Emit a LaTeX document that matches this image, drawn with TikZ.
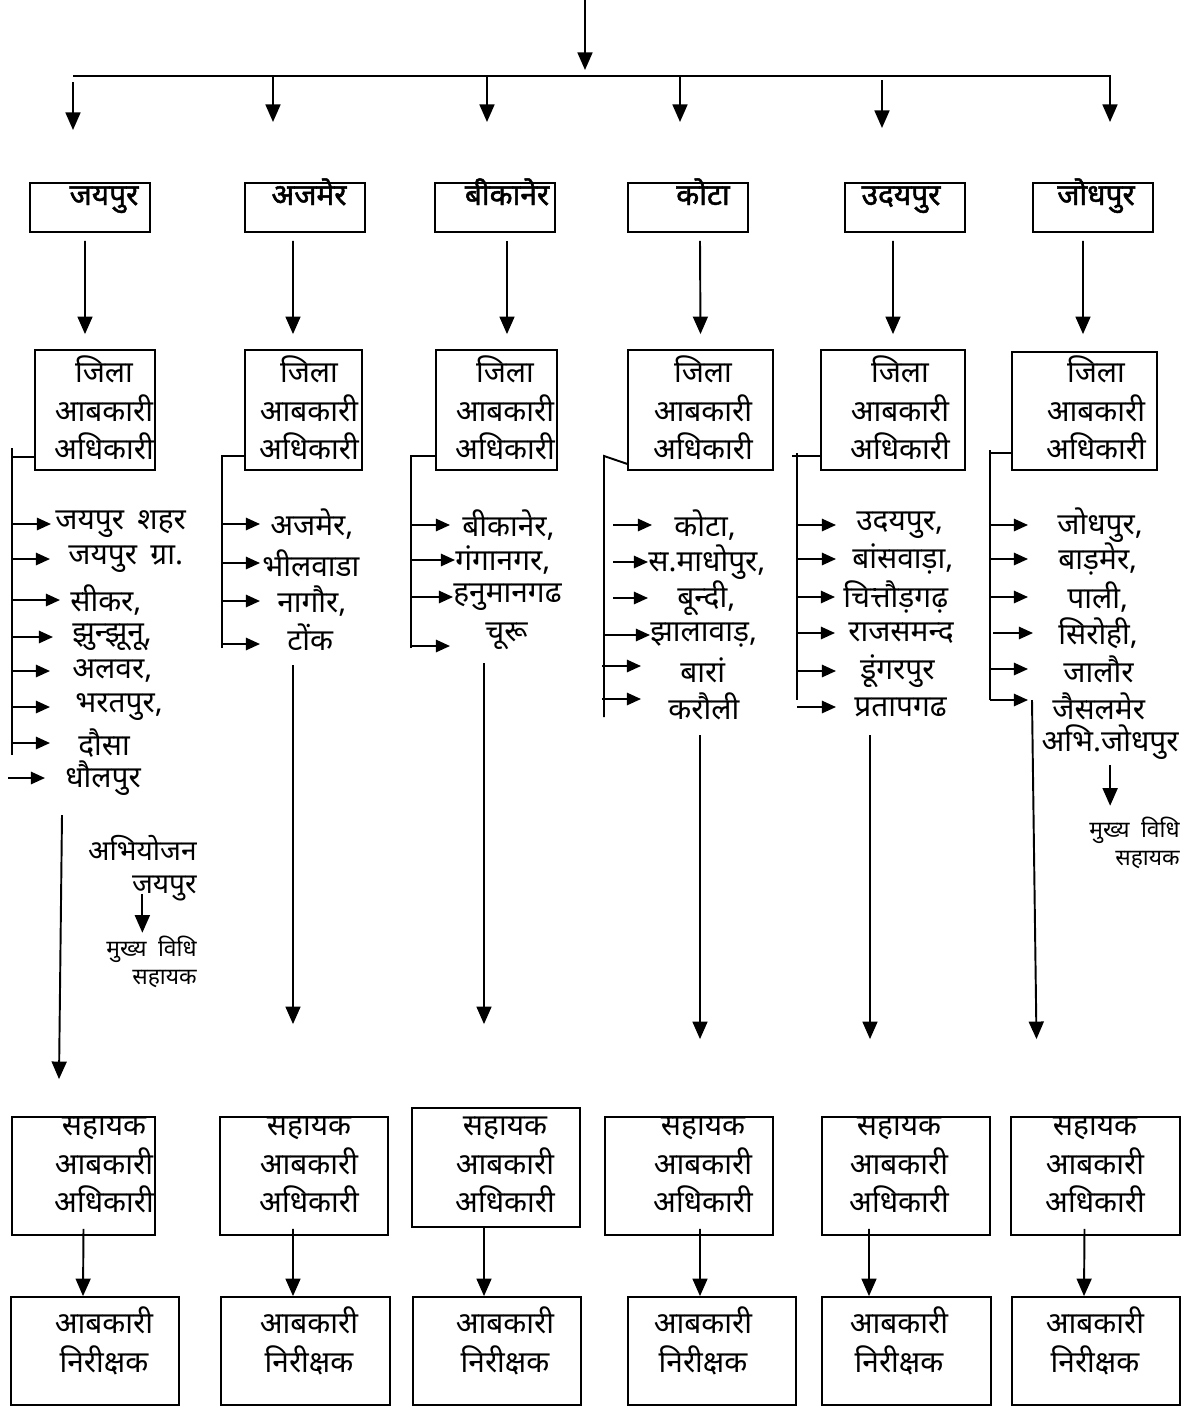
\documentclass[tikz,border=0pt]{standalone}
\usepackage{fontspec}
\newfontfamily\hindi[Script=Devanagari]{Noto Sans}
\newfontfamily\hindibold[Script=Devanagari, FakeBold=1.6]{Noto Sans}
\usetikzlibrary{arrows.meta}

\begin{document}
\begin{tikzpicture}[x=0.2mm, y=-0.2mm,
	boxed/.style={draw=black, line width=1pt, inner sep=0pt},
	cityname/.style={font=\hindibold\fontsize{17}{20}\selectfont, anchor=base, inner sep=0pt},
	officetext/.style={font=\hindi\fontsize{17}{22}\selectfont, align=center, inner sep=0pt},
	distr/.style={font=\hindi\fontsize{17}{20}\selectfont, anchor=west, inner sep=0pt},
	smallnote/.style={font=\hindi\fontsize{13}{16}\selectfont, align=right, anchor=east, inner sep=0pt},
	plainline/.style={line width=1.1pt},
	bigarrow/.style={plainline, -{Triangle[width=8.5pt,length=10pt]}},
	smallarrow/.style={plainline, -{Triangle[width=7pt,length=8pt]}}]

	\useasboundingbox (0,0) rectangle (1186,1410);

	% top arrow and bar
	\coordinate (topin) at (585, 0);
	\coordinate (topout) at (585, 70);
	\coordinate (barleft) at (73, 76);
	\coordinate (barright) at (1111, 76);
	\draw[bigarrow] (topin) -- (topout);
	\draw[plainline] (barleft) -- (barright);

	\coordinate (rise1) at (73, 82);   \coordinate (drop1) at (73, 130);
	\coordinate (rise2) at (273, 76);  \coordinate (drop2) at (273, 122);
	\coordinate (rise3) at (487, 76);  \coordinate (drop3) at (487, 122);
	\coordinate (rise4) at (680, 76);  \coordinate (drop4) at (680, 122);
	\coordinate (rise5) at (882, 80);  \coordinate (drop5) at (882, 128);
	\coordinate (rise6) at (1110, 76); \coordinate (drop6) at (1110, 122);
	\draw[bigarrow] (rise1) -- (drop1);
	\draw[bigarrow] (rise2) -- (drop2);
	\draw[bigarrow] (rise3) -- (drop3);
	\draw[bigarrow] (rise4) -- (drop4);
	\draw[bigarrow] (rise5) -- (drop5);
	\draw[bigarrow] (rise6) -- (drop6);

	% divisions
	\node[boxed, minimum width=24mm, minimum height=9.8mm] (jaipur)  at (90, 207.5)   {};
	\node[boxed, minimum width=24mm, minimum height=9.8mm] (ajmer)   at (305, 207.5)  {};
	\node[boxed, minimum width=24mm, minimum height=9.8mm] (bikaner) at (495, 207.5)  {};
	\node[boxed, minimum width=24mm, minimum height=9.8mm] (kota)    at (688, 207.5)  {};
	\node[boxed, minimum width=24mm, minimum height=9.8mm] (udaipur) at (905, 207.5)  {};
	\node[boxed, minimum width=24mm, minimum height=9.8mm] (jodhpur) at (1093, 207.5) {};

	\node[cityname] (jaipurname)  at (104, 205)  {जयपुर};
	\node[cityname] (ajmername)   at (309, 205)  {अजमेर};
	\node[cityname] (bikanername) at (507, 205)  {बीकानेर};
	\node[cityname] (kotaname)    at (703, 205)  {कोटा};
	\node[cityname] (udaipurname) at (901, 205)  {उदयपुर};
	\node[cityname] (jodhpurname) at (1096, 205) {जोधपुर};

	% district excise officers
	\node[boxed, minimum width=24mm, minimum height=24mm]   (jaipurdeo)  at (95, 410)    {};
	\node[boxed, minimum width=23.4mm, minimum height=24mm] (ajmerdeo)   at (303.5, 410) {};
	\node[boxed, minimum width=24.2mm, minimum height=24mm] (bikanerdeo) at (496.5, 410) {};
	\node[boxed, minimum width=29mm, minimum height=24mm]   (kotadeo)    at (700.5, 410) {};
	\node[boxed, minimum width=28.8mm, minimum height=24mm] (udaipurdeo) at (893, 410)   {};
	\node[boxed, minimum width=29mm, minimum height=23.6mm] (jodhpurdeo) at (1084.5, 411) {};

	\node[officetext] (jaipurdeotext)  at (104, 408)  {जिला\\आबकारी\\अधिकारी};
	\node[officetext] (ajmerdeotext)   at (309, 408)  {जिला\\आबकारी\\अधिकारी};
	\node[officetext] (bikanerdeotext) at (505, 408)  {जिला\\आबकारी\\अधिकारी};
	\node[officetext] (kotadeotext)    at (703, 408)  {जिला\\आबकारी\\अधिकारी};
	\node[officetext] (udaipurdeotext) at (900, 408)  {जिला\\आबकारी\\अधिकारी};
	\node[officetext] (jodhpurdeotext) at (1096, 408) {जिला\\आबकारी\\अधिकारी};

	\draw[bigarrow] ([xshift=-1mm,yshift=-1.6mm]jaipur.south)   -- ([xshift=-2mm,yshift=3mm]jaipurdeo.north);
	\draw[bigarrow] ([xshift=-2.4mm,yshift=-1.6mm]ajmer.south)  -- ([xshift=-2.1mm,yshift=3mm]ajmerdeo.north);
	\draw[bigarrow] ([xshift=2.4mm,yshift=-1.6mm]bikaner.south) -- ([xshift=2.1mm,yshift=3mm]bikanerdeo.north);
	\draw[bigarrow] ([xshift=2.4mm,yshift=-1.6mm]kota.south)    -- ([yshift=3mm]kotadeo.north);
	\draw[bigarrow] ([xshift=-2.4mm,yshift=-1.6mm]udaipur.south) -- ([yshift=3mm]udaipurdeo.north);
	\draw[bigarrow] ([xshift=-2mm,yshift=-1.6mm]jodhpur.south)  -- ([xshift=-0.3mm,yshift=3.4mm]jodhpurdeo.north);

	% jaipur districts
	\coordinate (jaTop) at (12, 448);
	\coordinate (jaBot) at (12, 755);
	\coordinate (jaKnee) at (12, 457);
	\draw[plainline] (jaTop) -- (jaBot);
	\draw[plainline] (jaKnee) -- (jaKnee -| jaipurdeo.west);
	\node[distr] (jaipurcity)  at (55, 524) {जयपुर\hspace{0.45em}शहर};
	\node[distr] (jaipurrural) at (68, 559) {जयपुर\hspace{0.45em}ग्रा.};
	\node[distr] (sikar)       at (70, 600) {सीकर,};
	\node[distr] (jhunjhunu)   at (72, 637) {झुन्झूनू,};
	\node[distr] (alwar)       at (72, 671) {अलवर,};
	\node[distr] (bharatpur)   at (75, 707) {भरतपुर,};
	\node[distr] (dausa)       at (78, 743) {दौसा};
	\node[distr] (dholpur)     at (65, 778) {धौलपुर};
	\draw[smallarrow] (jaTop |- jaipurcity.west)  -- ([xshift=-0.8mm]jaipurcity.west);
	\draw[smallarrow] (jaTop |- jaipurrural.west) -- ([xshift=-3.6mm]jaipurrural.west);
	\draw[smallarrow] (jaTop |- sikar.west)       -- ([xshift=-2mm]sikar.west);
	\draw[smallarrow] (jaTop |- jhunjhunu.west)   -- ([xshift=-3.8mm]jhunjhunu.west);
	\draw[smallarrow] (jaTop |- alwar.west)       -- ([xshift=-4.4mm]alwar.west);
	\draw[smallarrow] (jaTop |- bharatpur.west)   -- ([xshift=-5mm]bharatpur.west);
	\draw[smallarrow] (jaTop |- dausa.west)       -- ([xshift=-5.6mm]dausa.west);
	\draw[smallarrow] ([xshift=-0.8mm]jaTop |- dholpur.west) -- ([xshift=-4mm]dholpur.west);

	\node[officetext, align=right, anchor=east, font=\hindi\fontsize{16}{18.5}\selectfont] (japros) at (197, 868) {अभियोजन\\जयपुर};
	\node[smallnote] (janote) at (197, 962) {मुख्य\hspace{0.5em}विधि\\सहायक};
	\draw[bigarrow, shorten >=0.6mm] ([yshift=1.4mm]japros.south) -- (japros.south |- janote.north);

	% ajmer districts
	\coordinate (ajTop) at (222, 456);
	\coordinate (ajBot) at (222, 648);
	\draw[plainline] (ajBot) -- (ajTop) -- (ajTop -| ajmerdeo.west);
	\node[distr] (ajmercity) at (270, 524) {अजमेर,};
	\node[distr] (bhilwara)  at (262, 563) {भीलवाडा};
	\node[distr] (nagaur)    at (277, 601) {नागौर,};
	\node[distr] (tonk)      at (287, 637) {टोंक};
	\draw[smallarrow] (ajTop |- ajmercity.west) -- ([xshift=-2mm]ajmercity.west);
	\draw[smallarrow] (ajTop |- bhilwara.west)  -- ([xshift=-0.4mm]bhilwara.west);
	\draw[smallarrow] (ajTop |- nagaur.west)    -- ([xshift=-3.4mm]nagaur.west);
	\draw[smallarrow] ([yshift=-1.4mm]ajTop |- tonk.west) -- ([xshift=-5.4mm,yshift=-1.4mm]tonk.west);

	% bikaner districts
	\coordinate (biTop) at (411, 456);
	\coordinate (biBot) at (411, 648);
	\draw[plainline] (biBot) -- (biTop) -- (biTop -| bikanerdeo.west);
	\node[distr] (bikanercity) at (462, 525) {बीकानेर,};
	\node[distr] (ganganagar)  at (455, 560) {गंगानगर,};
	\node[distr] (hanumangarh) at (453, 597) {हनुमानगढ};
	\node[distr] (churu)       at (485, 636) {चूरू};
	\draw[smallarrow] (biTop |- bikanercity.west) -- ([xshift=-2.4mm]bikanercity.west);
	\draw[smallarrow] (biTop |- ganganagar.west)  -- (ganganagar.west);
	\draw[smallarrow] (biTop |- hanumangarh.west) -- (hanumangarh.west);
	\draw[smallarrow] ([yshift=-2mm]biTop |- churu.west) -- ([xshift=-7mm,yshift=-2mm]churu.west);

	% kota districts
	\coordinate (koTop) at (604, 456);
	\coordinate (koBot) at (604, 717);
	\draw[plainline] (koBot) -- (koTop) -- ([yshift=1.4mm]kotadeo.south west);
	\node[distr] (kotacity) at (674, 525) {कोटा,};
	\node[distr] (madhopur) at (648, 562) {स.माधोपुर,};
	\node[distr] (bundi)    at (677, 598) {बून्दी,};
	\node[distr] (jhalawar) at (650, 635) {झालावाड़,};
	\node[distr] (baran)    at (680, 670) {बारां};
	\node[distr] (karauli)  at (668, 706) {करौली};
	\draw[smallarrow] ([xshift=1.8mm]koTop |- kotacity.west) -- ([xshift=-4.4mm]kotacity.west);
	\draw[smallarrow] ([xshift=1.8mm]koTop |- madhopur.west) -- (madhopur.west);
	\draw[smallarrow] ([xshift=1.8mm]koTop |- bundi.west)    -- ([xshift=-5.8mm]bundi.west);
	\draw[smallarrow] (koTop |- jhalawar.west)               -- (jhalawar.west);
	\draw[smallarrow] ([xshift=-0.4mm,yshift=0.8mm]koTop |- baran.west)   -- ([xshift=-7.8mm,yshift=0.8mm]baran.west);
	\draw[smallarrow] ([xshift=-0.4mm,yshift=1.4mm]koTop |- karauli.west) -- ([xshift=-5.4mm,yshift=1.4mm]karauli.west);

	% udaipur districts
	\coordinate (udTop) at (797, 453);
	\coordinate (udBot) at (797, 700);
	\coordinate (udKnee) at (792, 456);
	\draw[plainline] (udTop) -- (udBot);
	\draw[plainline] (udKnee) -- (udKnee -| udaipurdeo.west);
	\node[distr] (udaipurcity) at (856, 525) {उदयपुर,};
	\node[distr] (banswara)    at (852, 559) {बांसवाड़ा,};
	\node[distr] (chittorgarh) at (843, 597) {चित्तौड़गढ़};
	\node[distr] (rajsamand)   at (848, 633) {राजसमन्द};
	\node[distr] (dungarpur)   at (860, 671) {डूंगरपुर};
	\node[distr] (pratapgarh)  at (854, 707) {प्रतापगढ};
	\draw[smallarrow] (udTop |- udaipurcity.west) -- ([xshift=-4mm]udaipurcity.west);
	\draw[smallarrow] (udTop |- banswara.west)    -- ([xshift=-3.2mm]banswara.west);
	\draw[smallarrow] (udTop |- chittorgarh.west) -- ([xshift=-1.6mm]chittorgarh.west);
	\draw[smallarrow] (udTop |- rajsamand.west)   -- ([xshift=-2.6mm]rajsamand.west);
	\draw[smallarrow] (udTop |- dungarpur.west)   -- ([xshift=-4.8mm]dungarpur.west);
	\draw[smallarrow] (udTop |- pratapgarh.west)  -- ([xshift=-3.6mm]pratapgarh.west);

	% jodhpur districts
	\coordinate (joTop) at (990, 450);
	\coordinate (joBot) at (990, 700);
	\coordinate (joKnee) at (990, 453);
	\draw[plainline] (joTop) -- (joBot);
	\draw[plainline] (joKnee) -- (joKnee -| jodhpurdeo.west);
	\node[distr] (jodhpurcity) at (1057, 525) {जोधपुर,};
	\node[distr] (barmer)      at (1058, 559) {बाड़मेर,};
	\node[distr] (pali)        at (1067, 597) {पाली,};
	\node[distr] (sirohi)      at (1058, 633) {सिरोही,};
	\node[distr] (jalore)      at (1063, 669) {जालौर};
	\node[distr] (jaisalmer)   at (1052, 706) {जैसलमेर};
	\node[distr, anchor=east] (abhijodhpur) at (1179, 742) {अभि.जोधपुर};
	\draw[smallarrow] (joTop |- jodhpurcity.west) -- ([xshift=-5.8mm]jodhpurcity.west);
	\draw[smallarrow] (joTop |- barmer.west)      -- ([xshift=-6mm]barmer.west);
	\draw[smallarrow] (joTop |- pali.west)        -- ([xshift=-7.8mm]pali.west);
	\draw[smallarrow] ([xshift=0.6mm]joTop |- sirohi.west) -- ([xshift=-5mm]sirohi.west);
	\draw[smallarrow] (joTop |- jalore.west)      -- ([xshift=-7mm]jalore.west);
	\draw[smallarrow] ([yshift=1.2mm]joTop |- jaisalmer.west) -- ([xshift=-4.8mm,yshift=1.2mm]jaisalmer.west);

	\node[smallnote] (jonote) at (1180, 843) {मुख्य\hspace{0.5em}विधि\\सहायक};
	\draw[bigarrow, shorten >=2.2mm] ([yshift=-1mm]abhijodhpur.south) -- (abhijodhpur.south |- jonote.north);

	% assistant excise officers
	\node[boxed, minimum width=28.6mm, minimum height=23.6mm] (jaipuraeo)  at (83.5, 1176)  {};
	\node[boxed, minimum width=33.6mm, minimum height=23.6mm] (ajmeraeo)   at (304, 1176)   {};
	\node[boxed, minimum width=33.6mm, minimum height=23.8mm] (bikaneraeo) at (496, 1167.5) {};
	\node[boxed, minimum width=33.6mm, minimum height=23.6mm] (kotaaeo)    at (689, 1176)   {};
	\node[boxed, minimum width=33.6mm, minimum height=23.6mm] (udaipuraeo) at (906, 1176)   {};
	\node[boxed, minimum width=33.8mm, minimum height=23.6mm] (jodhpuraeo) at (1095.5, 1176) {};

	\node[officetext] (jaipuraeotext)  at (104, 1165)  {सहायक\\आबकारी\\अधिकारी};
	\node[officetext] (ajmeraeotext)   at (309, 1165)  {सहायक\\आबकारी\\अधिकारी};
	\node[officetext] (bikaneraeotext) at (505, 1165)  {सहायक\\आबकारी\\अधिकारी};
	\node[officetext] (kotaaeotext)    at (703, 1165)  {सहायक\\आबकारी\\अधिकारी};
	\node[officetext] (udaipuraeotext) at (899, 1165)  {सहायक\\आबकारी\\अधिकारी};
	\node[officetext] (jodhpuraeotext) at (1095, 1165) {सहायक\\आबकारी\\अधिकारी};

	\coordinate (jaLong) at (62, 815);
	\coordinate (ajLong) at (293, 665);
	\coordinate (biLong) at (484, 663);
	\coordinate (koLong) at (700, 735);
	\coordinate (udLong) at (870, 735);
	\coordinate (joLong) at (1032, 700);
	\draw[bigarrow] (jaLong) -- ([xshift=-4.9mm,yshift=7.4mm]jaipuraeo.north);
	\draw[bigarrow] (ajLong) -- ([xshift=-2.2mm,yshift=18.4mm]ajmeraeo.north);
	\draw[bigarrow] (biLong) -- ([xshift=-2.4mm,yshift=16.6mm]bikaneraeo.north);
	\draw[bigarrow] (koLong) -- ([xshift=2.2mm,yshift=15.4mm]kotaaeo.north);
	\draw[bigarrow] (udLong) -- ([xshift=-7.2mm,yshift=15.4mm]udaipuraeo.north);
	\draw[bigarrow] (joLong) -- ([xshift=-11.8mm,yshift=15.4mm]jodhpuraeo.north);

	% excise inspectors
	\node[boxed, minimum width=33.6mm, minimum height=21.6mm] (jaipurei)  at (95, 1351)    {};
	\node[boxed, minimum width=33.8mm, minimum height=21.6mm] (ajmerei)   at (305.5, 1351) {};
	\node[boxed, minimum width=33.6mm, minimum height=21.6mm] (bikanerei) at (497, 1351)   {};
	\node[boxed, minimum width=33.6mm, minimum height=21.6mm] (kotaei)    at (712, 1351)   {};
	\node[boxed, minimum width=33.8mm, minimum height=21.6mm] (udaipurei) at (906.5, 1351) {};
	\node[boxed, minimum width=33.6mm, minimum height=21.6mm] (jodhpurei) at (1096, 1351)  {};

	\node[officetext] (jaipureitext)  at (104, 1341)  {आबकारी\\निरीक्षक};
	\node[officetext] (ajmereitext)   at (309, 1341)  {आबकारी\\निरीक्षक};
	\node[officetext] (bikanereitext) at (505, 1341)  {आबकारी\\निरीक्षक};
	\node[officetext] (kotaeitext)    at (703, 1341)  {आबकारी\\निरीक्षक};
	\node[officetext] (udaipureitext) at (899, 1341)  {आबकारी\\निरीक्षक};
	\node[officetext] (jodhpureitext) at (1095, 1341) {आबकारी\\निरीक्षक};

	\draw[bigarrow] ([yshift=1.4mm]jaipuraeo.south)               -- ([xshift=-2.4mm]jaipurei.north);
	\draw[bigarrow] ([xshift=-2.2mm,yshift=1.4mm]ajmeraeo.south)  -- ([xshift=-2.5mm]ajmerei.north);
	\draw[bigarrow] ([xshift=-2.4mm]bikaneraeo.south)              -- ([xshift=-2.6mm]bikanerei.north);
	\draw[bigarrow] ([xshift=2.2mm,yshift=1.4mm]kotaaeo.south)    -- ([xshift=-2.4mm]kotaei.north);
	\draw[bigarrow] ([xshift=-7.4mm,yshift=1.4mm]udaipuraeo.south) -- ([xshift=-7.5mm]udaipurei.north);
	\draw[bigarrow] ([xshift=-2.2mm,yshift=1.4mm]jodhpuraeo.south) -- ([xshift=-2.4mm]jodhpurei.north);

\end{tikzpicture}
\end{document}
